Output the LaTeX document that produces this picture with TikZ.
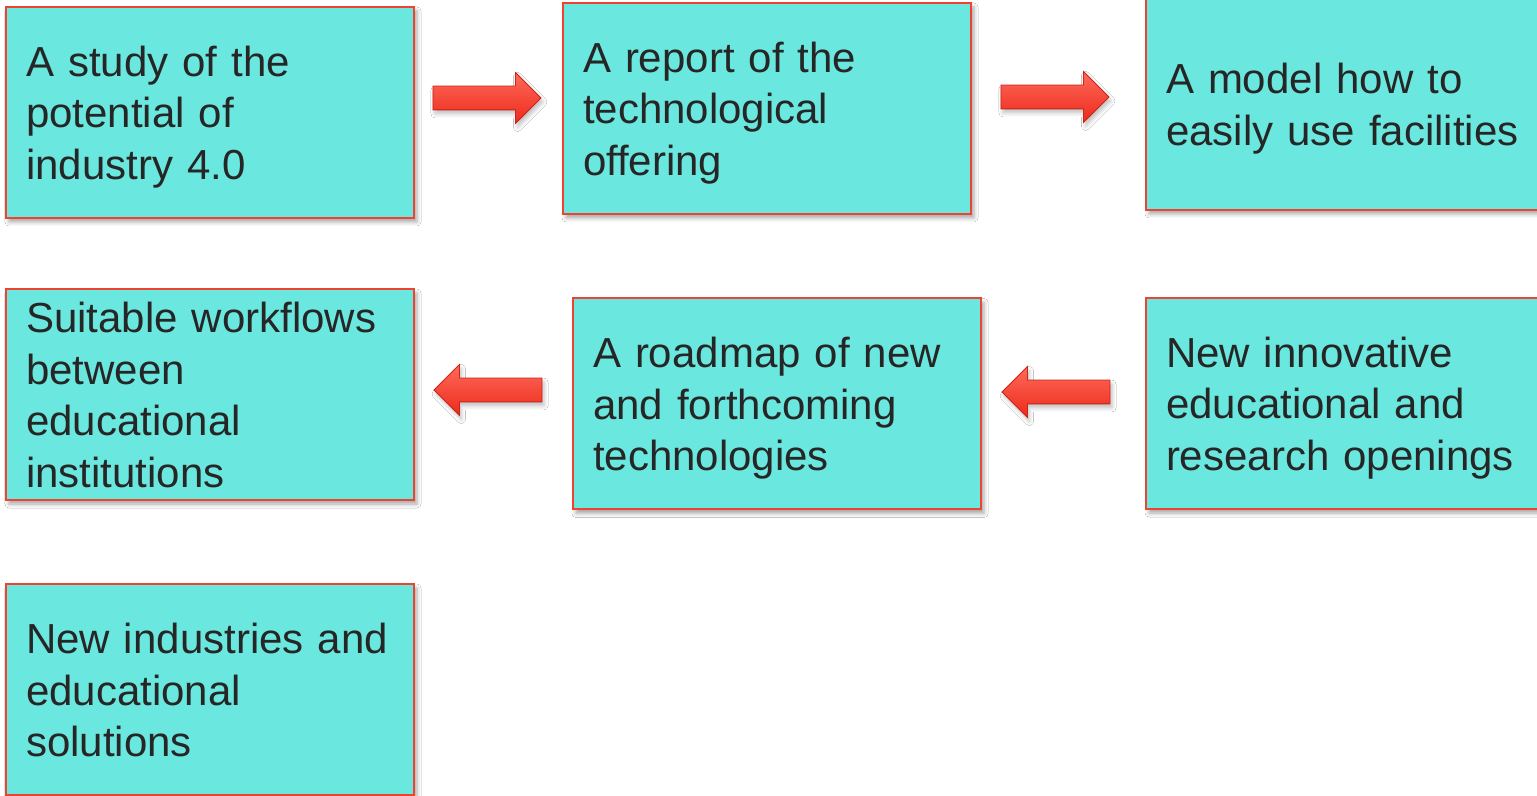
\documentclass[tikz,border=0pt]{standalone}
\usepackage{fontspec}
\setmainfont{Liberation Sans}
\usetikzlibrary{shapes.arrows,shadows.blur}
\definecolor{boxfill}{HTML}{6AE7DE}
\definecolor{boxline}{HTML}{F0432F}
\definecolor{txt}{HTML}{262626}
\definecolor{arrtop}{HTML}{FF6A5A}
\definecolor{arrbot}{HTML}{EC2A1C}

\begin{document}
\begin{tikzpicture}[x=0.5pt,y=-0.5pt,
  stage/.style={draw=boxline, line width=1pt, fill=boxfill, minimum width=204pt, minimum height=105.5pt,
    text width=184pt, inner xsep=10pt, inner ysep=0pt, align=left, text=txt,
    font=\fontsize{21pt}{25.75pt}\selectfont,
    execute at begin node=\rule{0pt}{19.5pt}, execute at end node=\rule[-4pt]{0pt}{0pt},
    blur shadow={shadow xshift=1.5pt, shadow yshift=-2pt, shadow blur radius=2pt, shadow opacity=35}},
  flow/.style={single arrow, single arrow head extend=6.75pt, minimum height=54pt, minimum width=25pt,
    inner xsep=0pt, inner ysep=5.75pt, top color=arrtop, bottom color=arrbot, draw=arrbot!85!black,
    line width=0.4pt, blur shadow={shadow xshift=1pt, shadow yshift=-2pt, shadow blur radius=2pt, shadow opacity=25}}]
\fill[white] (0,0) rectangle (1537,796);
\useasboundingbox (0,0) rectangle (1537,796);

\node[stage] (study) at (210,112.5) {A study of the\\potential of\\industry 4.0};
\node[stage] (report) at (767,108.5) {A report of the\\technological\\offering};
\node[stage] (model) at (1350,104.5) {A model how to\\easily use facilities};

\node[stage] (workflow) at (210,394.5) {Suitable workflows\\between\\educational\\institutions};
\node[stage] (roadmap) at (777,404) {A roadmap of new\\and forthcoming\\technologies};
\node[stage] (openings) at (1350,403.5) {New innovative\\educational and\\research openings};

\node[stage] (solutions) at (210,689.5) {New industries and\\educational\\solutions};

\node[flow] (toreport) at (481,98) {};
\node[flow] (tomodel) at (1049,97) {};
\node[flow, shape border rotate=180] (toworkflow) at (494,390) {};
\node[flow, shape border rotate=180] (toroadmap) at (1062,392) {};
\end{tikzpicture}
\end{document}
